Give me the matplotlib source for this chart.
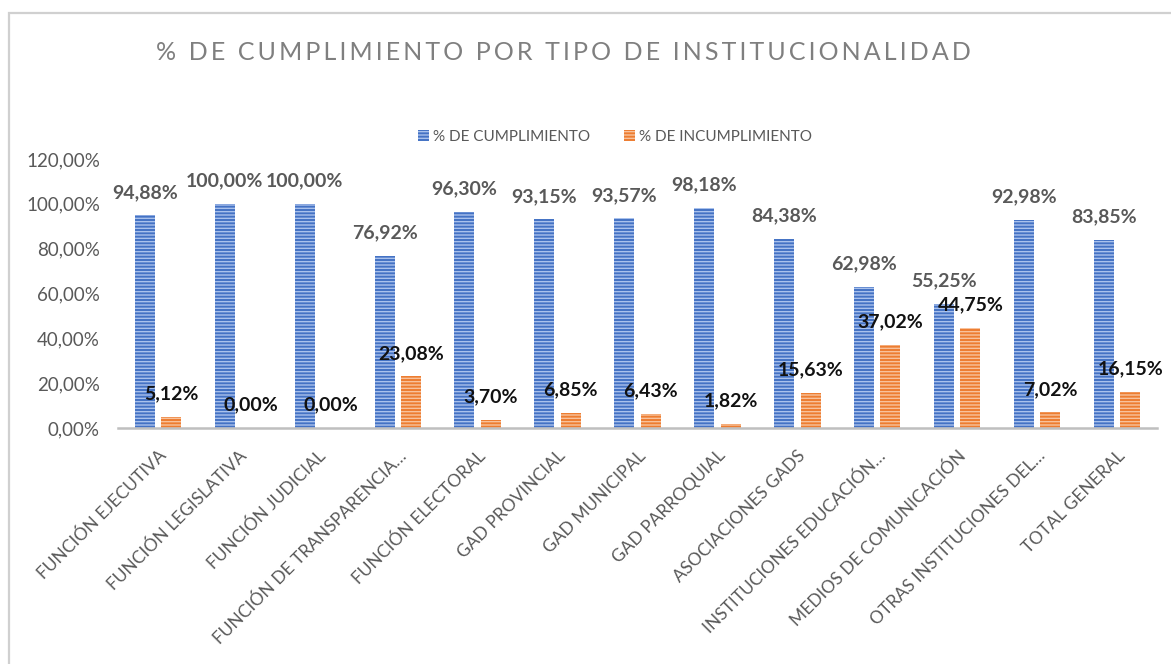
import matplotlib
matplotlib.use("Agg")
import matplotlib.pyplot as plt
import numpy as np
from matplotlib.patches import Rectangle
from matplotlib.ticker import FuncFormatter

categories = [
    "FUNCIÓN EJECUTIVA", "FUNCIÓN LEGISLATIVA", "FUNCIÓN JUDICIAL",
    "FUNCIÓN DE TRANSPARENCIA…", "FUNCIÓN ELECTORAL", "GAD PROVINCIAL",
    "GAD MUNICIPAL", "GAD PARROQUIAL", "ASOCIACIONES GADS",
    "INSTITUCIONES EDUCACIÓN…", "MEDIOS DE COMUNICACIÓN",
    "OTRAS INSTITUCIONES DEL…", "TOTAL GENERAL",
]
cumplimiento = [94.88, 100.00, 100.00, 76.92, 96.30, 93.15, 93.57, 98.18,
                84.38, 62.98, 55.25, 92.98, 83.85]
incumplimiento = [5.12, 0.00, 0.00, 23.08, 3.70, 6.85, 6.43, 1.82,
                  15.63, 37.02, 44.75, 7.02, 16.15]
series_names = ["% DE CUMPLIMIENTO", "% DE INCUMPLIMIENTO"]
title = "% DE CUMPLIMIENTO POR TIPO DE INSTITUCIONALIDAD"

plt.rcParams['font.family'] = ['Lato', 'DejaVu Sans']
plt.rcParams['hatch.linewidth'] = 1.0

W, H = 1171, 664
fig = plt.figure(figsize=(W / 100, H / 100), dpi=100)
fig.patches.append(Rectangle((9 / W, -0.1), 1.2, 1 - 13 / H + 0.1,
                             transform=fig.transFigure, fill=False,
                             edgecolor='#d0d0d0', linewidth=1.6))

ax = fig.add_axes([118 / W, 236 / H, (1157 - 118) / W, (428 - 159) / H])
x = np.arange(len(categories))
bw = 0.25
off = 0.165
b1 = ax.bar(x - off, cumplimiento, bw, color='#4472C4', edgecolor='#a9c1ec',
            hatch='-----', linewidth=0, label=series_names[0])
b2 = ax.bar(x + off, incumplimiento, bw, color='#ED7D31', edgecolor='#f8c29c',
            hatch='-----', linewidth=0, label=series_names[1])

def fmt(v):
    return f"{v:.2f}".replace('.', ',') + '%'

for rect, v in zip(b1, cumplimiento):
    ax.annotate(fmt(v), (rect.get_x() + rect.get_width() / 2, rect.get_height()),
                xytext=(0, 16.5), textcoords='offset points', ha='center', va='center',
                fontsize=14, fontweight='bold', color='#595959')
for rect, v in zip(b2, incumplimiento):
    ax.annotate(fmt(v), (rect.get_x() + rect.get_width() / 2, rect.get_height()),
                xytext=(0, 16.5), textcoords='offset points', ha='center', va='center',
                fontsize=14, fontweight='bold', color='#111111')

ax.set_xlim(-0.5, len(categories) - 0.5)
ax.set_ylim(0, 120)
ax.set_yticks(np.arange(0, 121, 20))
ax.yaxis.set_major_formatter(FuncFormatter(lambda v, p: fmt(v)))
ax.tick_params(axis='y', length=0, pad=13, labelsize=13.5, labelcolor='#595959')
ax.set_xticks(x)
ax.set_xticklabels(categories, rotation=45, ha='right', va='top',
                   rotation_mode='anchor', fontsize=12.5, color='#595959')
ax.tick_params(axis='x', length=0, pad=14)
for s in ['top', 'right', 'left']:
    ax.spines[s].set_visible(False)
ax.spines['bottom'].set_color('#bfbfbf')
ax.spines['bottom'].set_linewidth(1.8)

fig.text(563 / W, 1 - 52 / H, '\u2009'.join(title), ha='center', va='center',
         fontsize=18, color='#7f7f7f')

fig.legend(handles=[b1, b2], labels=series_names, loc='center',
           bbox_to_anchor=(615 / W, 1 - 137 / H), ncol=2, frameon=False,
           fontsize=11, labelcolor='#595959', handlelength=0.7, handleheight=0.7,
           handletextpad=0.3, columnspacing=2.2)

fig.savefig('out.png', dpi=100)
